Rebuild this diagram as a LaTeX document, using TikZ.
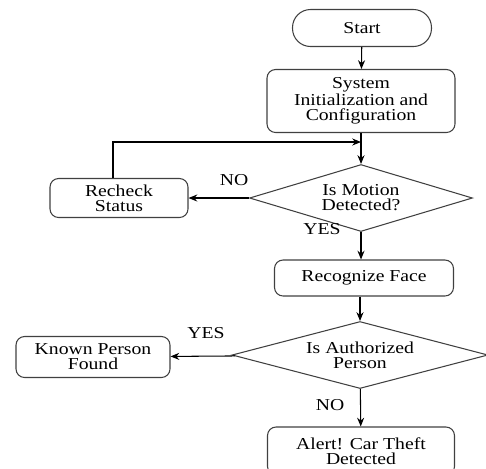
\documentclass[tikz,border=0pt]{standalone}
\usepackage{fontspec}
\setmainfont{Liberation Serif}[FakeStretch=1.18]
\usepackage{tikz}
\usetikzlibrary{shapes.geometric,arrows.meta}

\begin{document}
\begin{tikzpicture}[x=0.02cm, y=-0.02cm,
    font=\fontsize{9.5}{8.6}\selectfont,
    term/.style={draw=black!75, line width=0.6pt, rounded corners=0.36cm, align=center, inner sep=0pt},
    proc/.style={draw=black!75, line width=0.6pt, rounded corners=0.17cm, align=center, inner sep=0pt},
    decision/.style={draw=black!75, line width=0.6pt, diamond, aspect=3.4, align=center, inner sep=0pt},
    arrow/.style={-{Stealth[length=5pt,width=4pt]}, line width=0.6pt},
    lbl/.style={inner sep=0pt}]
    \useasboundingbox (0,0) rectangle (486,468);
    \node[term, minimum width=2.78cm, minimum height=0.74cm] (start) at (362,28) {Start};
    \node[proc, minimum width=3.76cm, minimum height=1.26cm] (init) at (361,101) {System\\Initialization and\\Configuration};
    \node[decision, minimum width=4.46cm, minimum height=1.34cm] (motion) at (361,198) {Is Motion\\Detected?};
    \node[proc, minimum width=2.76cm, minimum height=0.78cm] (recheck) at (119,198) {Recheck\\Status};
    \node[proc, minimum width=3.58cm, minimum height=0.72cm] (face) at (364,278) {Recognize Face};
    \node[decision, minimum width=5.12cm, minimum height=1.34cm] (auth) at (360,355) {Is Authorized\\Person};
    \node[proc, minimum width=3.08cm, minimum height=0.82cm] (known) at (93,357) {Known Person\\Found};
    \node[proc, minimum width=3.74cm, minimum height=0.96cm] (alert) at (361,451) {Alert! Car Theft\\Detected};
    \coordinate (merge) at (361,142);
    \coordinate (up) at (113,142);
    \draw[arrow] (start) -- (init);
    \draw[arrow] (init) -- (motion);
    \draw[arrow] (motion) -- (recheck);
    \draw[arrow] (recheck.north -| up) -- (up) -- (merge);
    \draw[arrow] (motion.south) -- (motion.south |- face.north);
    \draw[arrow] (face.south -| auth.north) -- (auth.north);
    \draw[arrow] (auth) -- (known);
    \draw[arrow] (auth) -- (alert);
    \node[lbl] (no1) at (234,180) {NO};
    \node[lbl] (yes1) at (322,229) {YES};
    \node[lbl] (yes2) at (206,333) {YES};
    \node[lbl] (no2) at (330,405) {NO};
\end{tikzpicture}
\end{document}
